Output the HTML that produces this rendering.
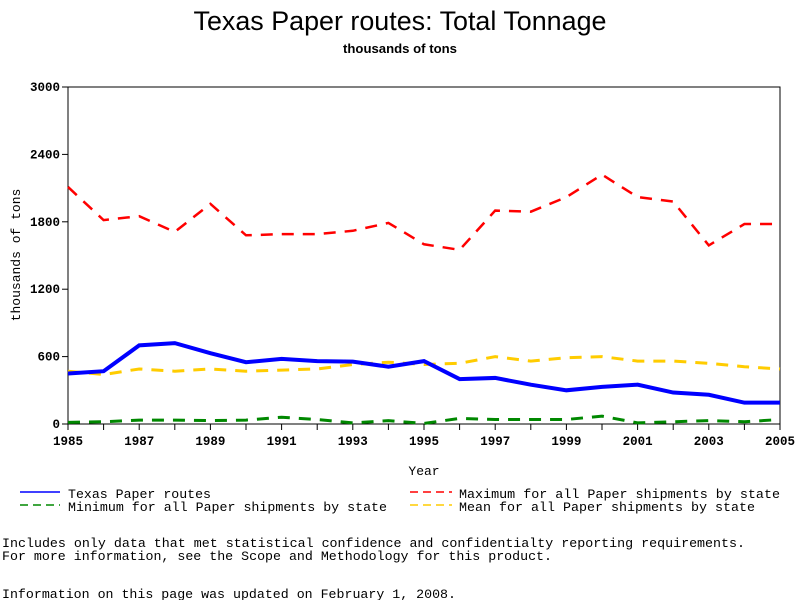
<!DOCTYPE html>
<html><head><meta charset="utf-8"><style>
body{margin:0;background:#fff;width:800px;height:600px;overflow:hidden}
svg text{font-family:"Liberation Mono",monospace}
</style></head><body>
<svg id="chart" width="800" height="600" xmlns="http://www.w3.org/2000/svg">
<text x="400" y="30" text-anchor="middle" style="font-family:'Liberation Sans',sans-serif" font-size="27" textLength="413" lengthAdjust="spacingAndGlyphs">Texas Paper routes: Total Tonnage</text>
<text x="400" y="53" text-anchor="middle" style="font-family:'Liberation Sans',sans-serif;font-weight:bold" font-size="13" textLength="114" lengthAdjust="spacingAndGlyphs">thousands of tons</text>
<rect x="68" y="87" width="712" height="337" fill="none" stroke="#000" stroke-width="1"/>
<g id="yticks"></g>
<g id="xticks"></g>
<text x="20" y="255" transform="rotate(-90 20 255)" text-anchor="middle" font-size="13">thousands of tons</text>
<text x="424" y="475" text-anchor="middle" font-size="13">Year</text>
<g id="series"></g>
<g font-size="13">
 <g><line x1="20" y1="492" x2="60" y2="492" stroke="#00f" stroke-width="1.5"/><text x="68" y="498" textLength="143" lengthAdjust="spacingAndGlyphs">Texas Paper routes</text></g>
 <g><line x1="410" y1="492" x2="452" y2="492" stroke="#f00" stroke-width="1.5" stroke-dasharray="8,5"/><text x="459" y="498" textLength="321" lengthAdjust="spacingAndGlyphs">Maximum for all Paper shipments by state</text></g>
 <g><line x1="20" y1="505" x2="60" y2="505" stroke="#080" stroke-width="1.5" stroke-dasharray="8,5"/><text x="68" y="511" textLength="319" lengthAdjust="spacingAndGlyphs">Minimum for all Paper shipments by state</text></g>
 <g><line x1="410" y1="505" x2="452" y2="505" stroke="#fc0" stroke-width="1.5" stroke-dasharray="8,5"/><text x="459" y="511" textLength="296" lengthAdjust="spacingAndGlyphs">Mean for all Paper shipments by state</text></g>
</g>
<g font-size="13">
<text x="2" y="547" textLength="743" lengthAdjust="spacingAndGlyphs">Includes only data that met statistical confidence and confidentialty reporting requirements.</text>
<text x="2" y="560" textLength="550" lengthAdjust="spacingAndGlyphs">For more information, see the Scope and Methodology for this product.</text>
<text x="2" y="598" textLength="454" lengthAdjust="spacingAndGlyphs">Information on this page was updated on February 1, 2008.</text>
</g>
</svg>
<script>
const years=[1985,1986,1987,1988,1989,1990,1991,1992,1993,1994,1995,1996,1997,1998,1999,2000,2001,2002,2003,2004,2005];
const texas=[450,470,700,720,630,550,580,560,555,510,560,400,410,350,300,330,350,280,260,190,190];
const maximum=[2110,1815,1850,1710,1960,1680,1690,1690,1720,1790,1600,1550,1900,1890,2020,2220,2020,1980,1590,1780,1780];
const minimum=[15,20,35,35,30,35,60,40,10,30,5,50,40,40,40,70,10,20,30,20,40];
const mean=[470,440,490,470,490,470,480,490,530,550,530,540,600,560,590,600,560,560,540,510,490];
const yTicks=[0,600,1200,1800,2400,3000];
const xTickLabels=[1985,1987,1989,1991,1993,1995,1997,1999,2001,2003,2005];
const NS="http://www.w3.org/2000/svg";
function xs(yr){return 68+(yr-1985)*712/20;}
function ys(v){return 424-v*337/3000;}
const yg=document.getElementById('yticks');
yTicks.forEach(t=>{
 const l=document.createElementNS(NS,'line');
 l.setAttribute('x1',62);l.setAttribute('x2',68);l.setAttribute('y1',ys(t));l.setAttribute('y2',ys(t));l.setAttribute('stroke','#000');
 
 
 yg.appendChild(l);
 const tx=document.createElementNS(NS,'text');
 tx.setAttribute('x',60);tx.setAttribute('y',ys(t)+4);tx.setAttribute('text-anchor','end');tx.setAttribute('font-size','12.5');tx.setAttribute('font-weight','bold');
 tx.textContent=t;
 
 
 yg.appendChild(tx);
});
const xg=document.getElementById('xticks');
years.forEach(y=>{
 const l=document.createElementNS(NS,'line');
 l.setAttribute('x1',xs(y));l.setAttribute('x2',xs(y));l.setAttribute('y1',424);l.setAttribute('y2',430);l.setAttribute('stroke','#000');
 
 
 xg.appendChild(l);
});
xTickLabels.forEach(y=>{
 const tx=document.createElementNS(NS,'text');
 tx.setAttribute('x',xs(y));tx.setAttribute('y',445);tx.setAttribute('text-anchor','middle');tx.setAttribute('font-size','12.5');tx.setAttribute('font-weight','bold');
 tx.textContent=y;
 
 
 xg.appendChild(tx);
});
const sg=document.getElementById('series');
function draw(vals,color,width,dash,name){
 const p=document.createElementNS(NS,'polyline');
 p.setAttribute('points',vals.map((v,i)=>xs(years[i])+','+ys(v)).join(' '));
 p.setAttribute('fill','none');p.setAttribute('stroke',color);p.setAttribute('stroke-width',width);
 if(dash)p.setAttribute('stroke-dasharray',dash);
 
 
 sg.appendChild(p);
}
draw(minimum,'#080',3,'12,9','minimum-line');
draw(mean,'#fc0',3,'12,9','mean-line');
draw(maximum,'#f00',2.5,'12,9','maximum-line');
draw(texas,'#00f',4,null,'texas-line');
</script>
</body></html>
